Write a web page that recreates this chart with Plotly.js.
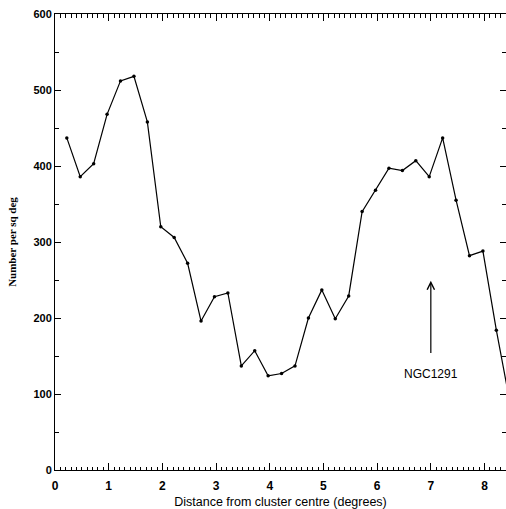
<!DOCTYPE html>
<html>
<head>
<meta charset="utf-8">
<script src="https://cdn.plot.ly/plotly-3.0.1.min.js"></script>
<style>html,body{margin:0;padding:0;background:#fff;}#chart{width:506px;height:509px;}</style>
</head>
<body>
<div id="chart"></div>
<script>
var distance = [0.22,0.47,0.72,0.97,1.22,1.47,1.72,1.97,2.22,2.47,2.72,2.97,3.22,3.47,3.72,3.97,4.22,4.47,4.72,4.97,5.22,5.47,5.72,5.97,6.22,6.47,6.72,6.97,7.22,7.47,7.72,7.97,8.22,8.47];
var density  = [437,386,403,468,512,518,458,320,306,272,196,228,233,137,157,124,127,137,200,237,199,229,340,368,397,394,407,386,437,355,282,288,184,90];
var xTicks = [0,1,2,3,4,5,6,7,8];
var yTicks = [0,100,200,300,400,500,600];
var arrowX = 7.0, arrowTail = 152, arrowTip = 249, labelY = 126;
var labelText = "NGC1291";

var trace = {
  x: distance, y: density, type: 'scatter', mode: 'lines+markers',
  line: {color: '#000', width: 1.2},
  marker: {color: '#000', size: 3.5},
  cliponaxis: true, hoverinfo: 'none'
};
var layout = {
  width: 506, height: 509,
  margin: {l: 55, r: 0, t: 14, b: 39, pad: 0},
  paper_bgcolor: '#fff', plot_bgcolor: '#fff',
  showlegend: false,
  xaxis: {
    range: [0, 8.4], tickvals: xTicks, ticktext: xTicks.map(String),
    ticks: 'inside', ticklen: 7, tickwidth: 1, tickcolor: '#000',
    minor: {dtick: 0.1, tick0: 0, ticks: 'inside', ticklen: 3.5, tickcolor: '#000', tickwidth: 1},
    showline: true, linecolor: '#000', linewidth: 1, mirror: 'ticks',
    showgrid: false, zeroline: false, ticklabelstandoff: 5,
    tickfont: {family: 'Liberation Sans, Arial, sans-serif', size: 12, color: '#000', weight: 'bold'},
    title: {text: 'Distance from cluster centre (degrees)', standoff: 4,
            font: {family: 'Liberation Sans, Arial, sans-serif', size: 12.5, color: '#000'}}
  },
  yaxis: {
    range: [0, 600], tickvals: yTicks, ticktext: yTicks.map(String),
    ticks: 'inside', ticklen: 6, tickwidth: 1, tickcolor: '#000',
    minor: {dtick: 50, ticks: 'inside', ticklen: 4, tickcolor: '#000', tickwidth: 1},
    showline: true, linecolor: '#000', linewidth: 1, mirror: 'ticks',
    showgrid: false, zeroline: false,
    tickfont: {family: 'Liberation Sans, Arial, sans-serif', size: 11, color: '#000', weight: 'bold'},
    title: {text: 'Number per sq deg', standoff: 14,
            font: {family: 'Liberation Serif, Times New Roman, serif', size: 11, color: '#000', weight: 'bold'}}
  },
  annotations: [
    {x: arrowX, y: arrowTip, ax: arrowX, ay: arrowTail, xref: 'x', yref: 'y', axref: 'x', ayref: 'y',
     text: '', showarrow: true, arrowhead: 5, arrowsize: 1.2, arrowwidth: 1.2, arrowcolor: '#000'},
    {x: arrowX, y: labelY, xref: 'x', yref: 'y', text: labelText, showarrow: false,
     font: {family: 'Liberation Sans, Arial, sans-serif', size: 12, color: '#000'}}
  ]
};
Plotly.newPlot('chart', [trace], layout, {staticPlot: true, displayModeBar: false});
</script>
</body>
</html>
